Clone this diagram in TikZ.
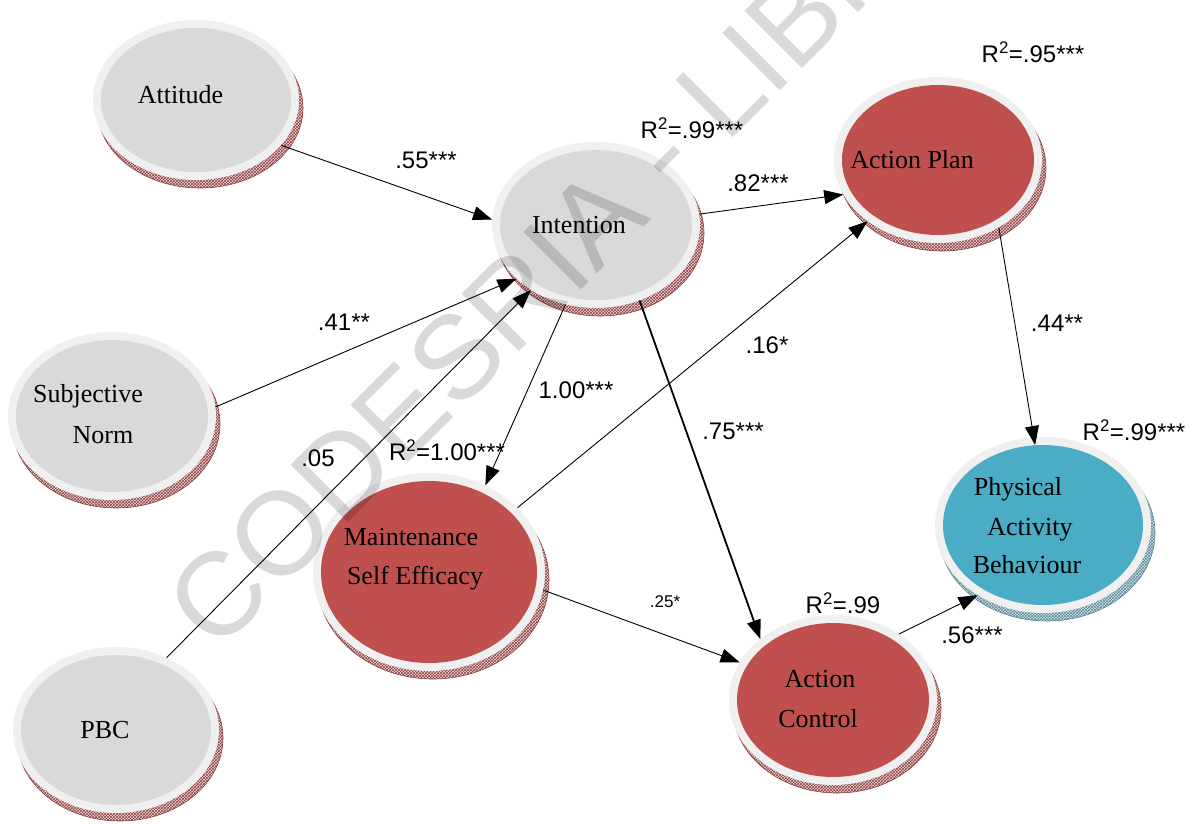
\documentclass[tikz,border=0pt]{standalone}
\usepackage{fontspec}
\setmainfont{Liberation Serif}
\newfontfamily\coeffont{Liberation Sans}
\usetikzlibrary{arrows.meta,patterns,shapes.geometric}

\definecolor{rimgray}{HTML}{F0F0F0}
\definecolor{latentgray}{HTML}{D9D9D9}
\definecolor{planred}{HTML}{C0504D}
\definecolor{outcometeal}{HTML}{4BACC6}
\definecolor{edgered}{HTML}{8E3F3F}
\definecolor{edgeredlight}{HTML}{EBD8D8}
\definecolor{edgeteal}{HTML}{5B8897}
\definecolor{edgeteallight}{HTML}{D3E3E8}

% A construct: bevelled rim (shadow), light ring, coloured face.
% #1 name, #2 x, #3 y, #4 x radius, #5 y radius, #6 face colour, #7 rim style
\newcommand\DiscNode[7]{%
  \fill[#7] (#2+4,#3+8) ellipse [x radius=#4pt, y radius=#5pt];
  \node[disc, minimum width={2*#4pt}, minimum height={2*#5pt}] (#1) at (#2,#3) {};
  \fill[#6] (#1.center) ellipse [x radius=#4pt-8pt, y radius=#5pt-8pt];
}

\begin{document}
\begin{tikzpicture}[x=1pt,y=-1pt,
  disc/.style={ellipse, inner sep=0pt, fill=rimgray, draw=none},
  redrim/.style={fill=edgeredlight, postaction={pattern=crosshatch, pattern color=edgered},
    draw=edgered, line width=0.6pt},
  tealrim/.style={fill=edgeteallight, postaction={pattern=crosshatch, pattern color=edgeteal},
    draw=edgeteal, line width=0.6pt},
  link/.style={draw, line width=0.9pt, -{Triangle[length=19pt,width=14pt]}},
  coef/.style={font=\coeffont\fontsize{24}{24}\selectfont, inner sep=0pt},
  smallcoef/.style={font=\coeffont\fontsize{17}{17}\selectfont, inner sep=0pt},
  intext/.style={font=\fontsize{26}{26}\selectfont, anchor=base, inner sep=0pt},
  watermark/.style={font=\coeffont\fontsize{118}{118}\selectfont, text=black,
    text opacity=0.15, inner sep=0pt, anchor=base west, rotate=45}]

\useasboundingbox (0,0) rectangle (1194,823);
\clip (0,0) rectangle (1194,823);

% constructs
\DiscNode{att}{196}{100}{103}{80}{latentgray}{redrim}
\DiscNode{int}{596}{225}{104}{83}{latentgray}{redrim}
\DiscNode{ap}{938}{160}{104}{83}{planred}{redrim}
\DiscNode{sn}{112}{416}{104}{84}{latentgray}{redrim}
\DiscNode{pbc}{116}{730}{103}{83}{latentgray}{redrim}
\DiscNode{mse}{429}{572}{116}{99}{planred}{redrim}
\DiscNode{ac}{833}{700}{104}{85}{planred}{redrim}
\DiscNode{pab}{1043}{525}{108}{88}{outcometeal}{tealrim}

% construct names
\node[intext] (att-t) at (180.5,103) {Attitude};
\node[intext] (int-t) at (579,233) {Intention};
\node[intext] (ap-t) at (912,168) {Action Plan};
\node[intext] (sn-t1) at (88,402) {Subjective};
\node[intext] (sn-t2) at (103,443) {Norm};
\node[intext] (mse-t1) at (411,545) {Maintenance};
\node[intext] (mse-t2) at (415,584) {Self Efficacy};
\node[intext] (pbc-t) at (105,738) {PBC};
\node[intext] (ac-t1) at (820,687) {Action};
\node[intext] (ac-t2) at (818,727) {Control};
\node[intext] (pab-t1) at (1018,495) {Physical};
\node[intext] (pab-t2) at (1030,535) {Activity};
\node[intext] (pab-t3) at (1027,573) {Behaviour};

% library stamp across the page
\node[watermark] (stamp) at (216,655) {CODESRIA - LIBRARY};

% structural paths
\draw[link] (att.-28) -- (int.177);
\draw[link] (sn.5) -- (int.214);
\draw[link] (pbc.55) -- (int.225);
\draw[link] (int.6) -- (ap.200);
\draw[link] (int.249) -- (mse.57);
\draw[link, line width=1.8pt] (int.-60) -- (ac.140);
\draw[link] (mse.36) -- (ap.221);
\draw[link] (mse.-9) -- (ac.158);
\draw[link, shorten >=-8pt] (ap.-48) -- (pab.96);
\draw[link] (ac.45) -- (pab.227);

% path coefficients and explained variance
\node[coef] (c-att) at (426,160) {.55***};
\node[coef] (r-int) at (692,128) {R\textsuperscript{2}=.99***};
\node[coef] (c-ip) at (758,183) {.82***};
\node[coef] (r-ap) at (1033,52) {R\textsuperscript{2}=.95***};
\node[coef] (c-sn) at (344,322) {.41**};
\node[coef] (c-msap) at (767,345) {.16*};
\node[coef] (c-appab) at (1057,323) {.44**};
\node[coef] (c-imse) at (576,390) {1.00***};
\node[coef] (c-iac) at (733,431) {.75***};
\node[coef] (r-mse) at (447,450) {R\textsuperscript{2}=1.00***};
\node[coef] (c-pbc) at (318,458) {.05};
\node[coef] (r-pab) at (1134,430) {R\textsuperscript{2}=.99***};
\node[smallcoef] (c-msac) at (665,602) {.25*};
\node[coef] (r-ac) at (843,603) {R\textsuperscript{2}=.99};
\node[coef] (c-acpab) at (972,635) {.56***};
\end{tikzpicture}
\end{document}
